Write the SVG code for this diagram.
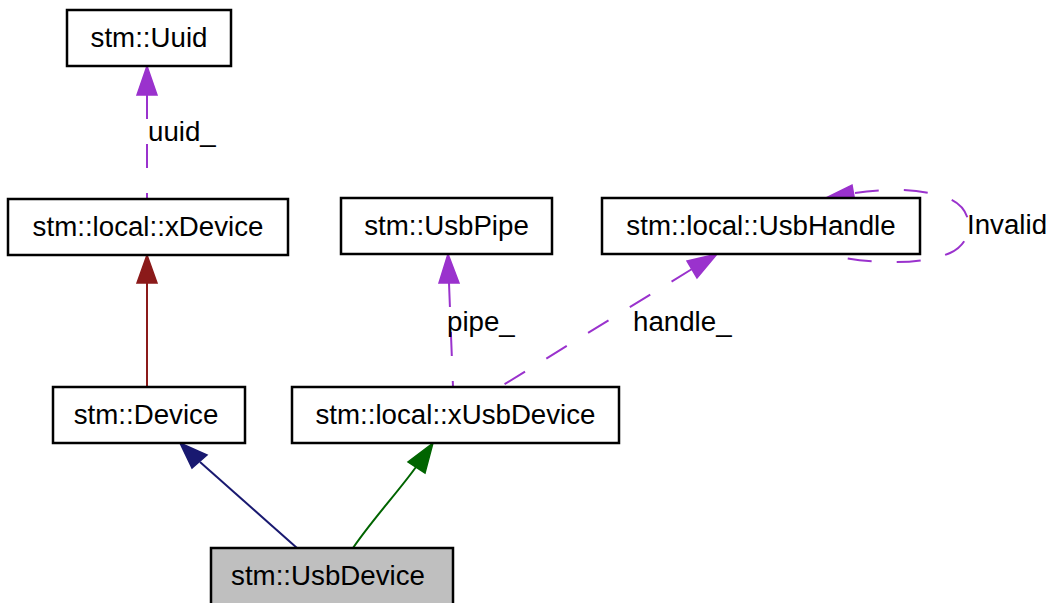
<svg xmlns="http://www.w3.org/2000/svg" width="1051" height="603" viewBox="0 0 1051 603">
<style>
.box{fill:#fff;stroke:#000;stroke-width:2.5}
.hl{fill:#bfbfbf}
.t{font-family:"Liberation Sans",Arial,Helvetica,sans-serif;font-size:27.7px;fill:#000;text-anchor:middle}
.lbl{font-family:"Liberation Sans",Arial,Helvetica,sans-serif;font-size:27.7px;fill:#000}
.use{fill:none;stroke:#9a32cd;stroke-width:2;stroke-dasharray:24,25}
.useh{fill:#9a32cd;stroke:#9a32cd;stroke-width:1.5}
</style>
<rect width="1051" height="603" fill="#fff"/>
<g id="connectors">
  <g id="e-uuid">
    <path class="use" d="M147,95 L147,199"/>
    <polygon class="useh" points="147,66 137,95 157,95"/>
    <text class="lbl" x="148" y="141">uuid_</text>
  </g>
  <g id="e-xdevice">
    <path d="M147,283 L147,387" fill="none" stroke="#8b1a1a" stroke-width="2"/>
    <polygon points="147,255 137,283 157,283" fill="#8b1a1a" stroke="#8b1a1a" stroke-width="1.5"/>
  </g>
  <g id="e-device">
    <path d="M200,462 L297,548" fill="none" stroke="#191970" stroke-width="2"/>
    <polygon points="180,443 207,455 192,468" fill="#191970" stroke="#191970" stroke-width="1.5"/>
  </g>
  <g id="e-xusbdevice">
    <path d="M416,467 C398,492 372,520 353,548" fill="none" stroke="#006400" stroke-width="2"/>
    <polygon points="433,443 408,462 425,473" fill="#006400" stroke="#006400" stroke-width="1.5"/>
  </g>
  <g id="e-pipe">
    <path class="use" d="M449,283 L453,387"/>
    <polygon class="useh" points="448,254 439,283 459,283"/>
    <text class="lbl" x="447" y="331">pipe_</text>
  </g>
  <g id="e-handle">
    <path class="use" d="M692,269 L500,387"/>
    <polygon class="useh" points="717,254 687,261 697,278"/>
    <text class="lbl" x="633" y="331">handle_</text>
  </g>
  <g id="e-invalid">
    <path class="use" d="M855,193 C880,189 920,187 950,199 C975,210 975,242 950,253 C920,266 870,263 840,257"/>
    <polygon class="useh" points="828,197 852,185 855,202"/>
    <text class="lbl" x="967" y="234">Invalid</text>
  </g>
</g>
<g id="n-uuid">
  <rect class="box" x="67" y="10" width="164" height="56"/>
  <text class="t" x="149" y="47">stm::Uuid</text>
</g>
<g id="n-xdevice">
  <rect class="box" x="8" y="199" width="280" height="56"/>
  <text class="t" x="148" y="236">stm::local::xDevice</text>
</g>
<g id="n-usbpipe">
  <rect class="box" x="341" y="198" width="211" height="56"/>
  <text class="t" x="446.5" y="235">stm::UsbPipe</text>
</g>
<g id="n-usbhandle">
  <rect class="box" x="602" y="198" width="318" height="56"/>
  <text class="t" x="761" y="235">stm::local::UsbHandle</text>
</g>
<g id="n-device">
  <rect class="box" x="53" y="387" width="192" height="56"/>
  <text class="t" x="146" y="424">stm::Device</text>
</g>
<g id="n-xusbdevice">
  <rect class="box" x="292" y="387" width="327" height="56"/>
  <text class="t" x="455.5" y="424">stm::local::xUsbDevice</text>
</g>
<g id="n-usbdevice">
  <rect class="box hl" x="211" y="548" width="242" height="58"/>
  <text class="t" x="328" y="585">stm::UsbDevice</text>
</g>
</svg>
